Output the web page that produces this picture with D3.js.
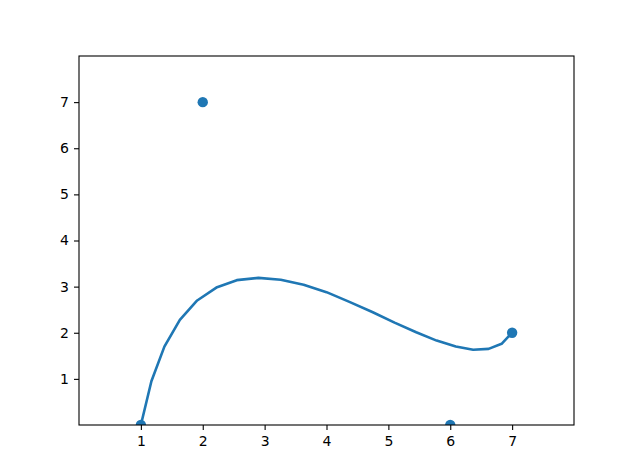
<!DOCTYPE html>
<html>
<head>
<meta charset="utf-8">
<script src="https://cdn.jsdelivr.net/npm/d3@7"></script>
<style>
  body { margin: 0; background: #fff; }
  svg { display: block; }
</style>
</head>
<body>
<div id="chart"></div>
<script>
// scatter points
let pointX = [1, 2, 6, 7];
let pointY = [0, 7, 0, 2];

// smooth curve
let curveX = [1, 1.17, 1.38, 1.63, 1.91, 2.22, 2.55, 2.90, 3.26, 3.63, 4.00,
              4.37, 4.74, 5.10, 5.45, 5.78, 6.09, 6.37, 6.62, 6.83, 7];
let curveY = [0, 0.95, 1.70, 2.28, 2.70, 2.98, 3.14, 3.19, 3.15, 3.04, 2.88,
              2.67, 2.45, 2.22, 2.01, 1.83, 1.70, 1.63, 1.65, 1.76, 2];

let tickValues = [1, 2, 3, 4, 5, 6, 7];

let width = 634;
let height = 474;
let margin = { top: 56, right: 60, bottom: 49, left: 79 };
let innerW = 574 - margin.left;
let innerH = 425 - margin.top;

let svg = d3.select("#chart")
  .append("svg")
  .attr("width", width)
  .attr("height", height);

let g = svg.append("g")
  .attr("transform", "translate(" + margin.left + "," + margin.top + ")");

let x = d3.scaleLinear().domain([0, 8]).range([0, innerW]);
let y = d3.scaleLinear().domain([0, 8]).range([innerH, 0]);

g.append("clipPath")
  .attr("id", "clip")
  .append("rect")
  .attr("width", innerW)
  .attr("height", innerH);

let color = "#1f77b4";

let plot = g.append("g").attr("clip-path", "url(#clip)");

let line = d3.line()
  .x(d => x(d[0]))
  .y(d => y(d[1]));

plot.append("path")
  .datum(curveX.map((v, i) => [v, curveY[i]]))
  .attr("d", line)
  .attr("fill", "none")
  .attr("stroke", color)
  .attr("stroke-width", 2.6)
  .attr("stroke-linejoin", "round");

plot.selectAll("circle")
  .data(pointX.map((v, i) => [v, pointY[i]]))
  .enter()
  .append("circle")
  .attr("cx", d => x(d[0]))
  .attr("cy", d => y(d[1]))
  .attr("r", 5.2)
  .attr("fill", color);

// axes
let xAxis = d3.axisBottom(x).tickValues(tickValues).tickSize(5).tickPadding(5).tickSizeOuter(0);
let yAxis = d3.axisLeft(y).tickValues(tickValues).tickSize(5).tickPadding(5).tickSizeOuter(0);

let xg = g.append("g").attr("transform", "translate(0," + innerH + ")").call(xAxis);
let yg = g.append("g").call(yAxis);

[xg, yg].forEach(a => {
  a.attr("font-family", "DejaVu Sans, sans-serif").attr("font-size", 14);
  a.select(".domain").remove();
  a.selectAll(".tick line").attr("stroke", "#000").attr("stroke-width", 1.1);
  a.selectAll(".tick text").attr("fill", "#000");
});
xg.selectAll(".tick text").attr("dy", "0.8em");

// frame
g.append("rect")
  .attr("width", innerW)
  .attr("height", innerH)
  .attr("fill", "none")
  .attr("stroke", "#000")
  .attr("stroke-width", 1.1);
</script>
</body>
</html>
